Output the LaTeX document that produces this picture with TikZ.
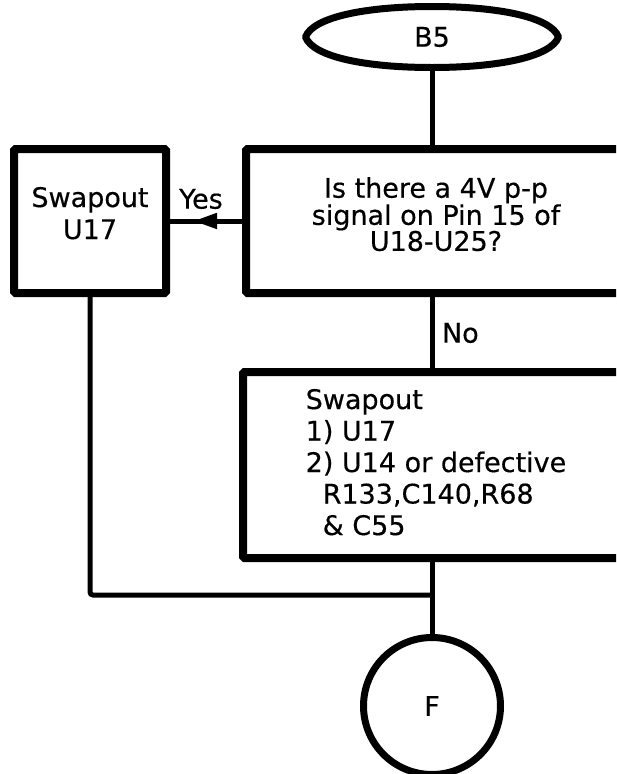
\documentclass[tikz,border=0pt]{standalone}
\usepackage{fontspec}
\setmainfont{DejaVu Sans}[FakeBold=0.4]
\usetikzlibrary{shapes.geometric,arrows.meta,decorations.markings}
\begin{document}
\begin{tikzpicture}[x=1pt,y=-1pt,
  every node/.style={font=\fontsize{27}{30}\selectfont, inner sep=0pt, outer sep=0pt},
  boxnode/.style={draw, line width=8pt, rounded corners=1.5pt},
  lensline/.style={line width=7pt, line join=round},
  conn/.style={line width=5pt}]
\useasboundingbox (0,0) rectangle (616,774);
\clip (0,0) rectangle (616,774);
% terminal B5 (slightly pointed ellipse drawn round the named node)
\node[minimum width=253pt, minimum height=61pt] (b5) at (432,37) {B5};
\draw[lensline] (b5.west) .. controls (313,17) and (366,6.5) .. (b5.north)
  .. controls (498,6.5) and (551,17) .. (b5.east)
  .. controls (551,57) and (498,67.5) .. (b5.south)
  .. controls (366,67.5) and (313,57) .. cycle;
% question box (runs off the right edge)
\node[boxnode, minimum width=380pt, minimum height=144pt, align=center,
      font=\fontsize{27}{26}\selectfont, text depth=14pt] (q) at (436,221)
      {Is there a 4V p-p\\signal on Pin 15 of\\U18-U25?};
% left action box
\node[boxnode, minimum width=152pt, minimum height=144pt, align=center,
      font=\fontsize{27}{32}\selectfont, text depth=16pt] (s) at (90,221)
      {Swapout\\U17};
% bottom action box
\node[boxnode, minimum width=386pt, minimum height=186pt, align=left,
      font=\fontsize{27}{31.5}\selectfont, text depth=6pt] (a) at (436,465)
      {Swapout\\1) U17\\2) U14 or defective\\\hspace*{17pt}R133,C140,R68\\\hspace*{17pt}\& C55};
% connector F
\node[draw, circle, line width=7pt, minimum size=137pt] (f) at (432,706) {F};
% labels
\node (yes) at (201,199) {Yes};
\node[anchor=west] (no) at (442,333) {No};
\coordinate (j) at (432,595);
% connectors
\draw[conn] (f.north |- b5.south) -- (f.north |- q.north);
\draw[conn] (f.north |- q.south) -- (f.north |- a.north);
\draw[conn] (f.north |- a.south) -- (f.north);
\draw[conn, rounded corners=3pt] (s.south) |- (j);
\draw[conn, postaction={decorate},
  decoration={markings, mark=at position 0.66 with {\arrow{Triangle[length=24pt,width=15pt]}}}]
  (q.west) -- (s.east);
\end{tikzpicture}
\end{document}
